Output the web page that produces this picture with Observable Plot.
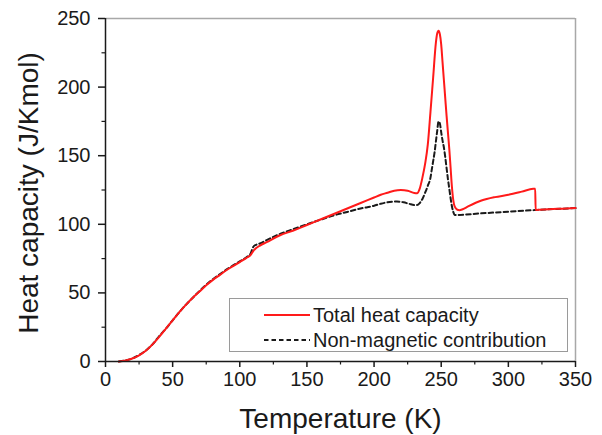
<!DOCTYPE html>
<html>
<head>
<meta charset="utf-8">
<script src="https://cdn.jsdelivr.net/npm/d3@7"></script>
<script src="https://cdn.jsdelivr.net/npm/@observablehq/plot@0.6"></script>
<style>
  html, body { margin: 0; padding: 0; background: #fff; }
  #wrap { position: relative; width: 602px; height: 435px; font-family: "Liberation Sans", Arial, sans-serif; }
  #legend { position: absolute; left: 229px; top: 298px; width: 337px; height: 52px; border: 1.5px solid #9a9a9a; background: #fff; box-sizing: content-box; }
  #legend .row { position: absolute; left: 0; height: 24px; display: flex; align-items: center; font-size: 20px; color: #1a1a1a; }
  #legend svg { margin-left: 34px; margin-right: 3px; }
</style>
</head>
<body>
<div id="wrap"></div>
<script>
// Total heat capacity (red solid)
const tempTotal = [10,15,20,25,30,35,40,45,50,55,60,65,70,75,80,85,90,95,100,105,108,110,112,115,120,130,140,150,160,170,180,190,200,205,210,215,220,225,230,232,234,236,238,240,242,244,246,247,248,249,250,251,252,253,254,255,256,257,258,259,260,262,263.5,266,270,280,290,300,310,318.5,320,320.3,330,340,350];
const cpTotal   = [0,0.8,2.2,4.5,7.8,12.5,18,24,30,36,41.5,46.5,51,55.5,59.5,63,66.5,69.5,72.5,75.5,77.5,80.5,82.5,84.5,87,92,95.5,99.5,103.5,107.5,111.5,115.5,119.5,121.5,123,124.5,125,124.5,122.8,122.6,126,134,144,158,182,207,232,239,241,238.5,231,218,205,192,179,167,155,141,127,117.5,113,110.6,110.3,111,113,117.3,119.8,121.5,123.8,125.9,126,110.5,111,111.4,111.8];

// Non-magnetic contribution (black dashed)
const tempNonMag = [10,15,20,25,30,35,40,45,50,55,60,65,70,75,80,85,90,95,100,105,108,110,112,115,120,130,140,150,160,170,180,190,200,205,210,217,222,226,230,232,234,236,238,240,242,243,244,245,246,247,248,249,250,251,252,253,254,255,256,257,258,259,260,280,300,320,350];
const cpNonMag   = [0,0.8,2.2,4.7,8,12.5,18.5,24,30,36,41.5,46.5,51.3,56,60,63.5,67,70,73,76,78.5,83.5,85,86,88.5,93,96.5,100,103.3,106.5,109,111.5,113.5,115,116,116.6,116,115,114,114,115.5,118.5,123,128,134,140,146,152,160,168,175,173.5,167,161,156,149,141,133,126,119,113,109,106.8,108,109.2,110.4,111.8];

const xTicks = [0,50,100,150,200,250,300,350];
const yTicks = [0,50,100,150,200,250];
const xMinor = [25,75,125,175,225,275,325];
const yMinor = [25,75,125,175,225];

const seriesNames = ["Total heat capacity", "Non-magnetic contribution"];
const xLabel = "Temperature (K)";
const yLabel = "Heat capacity (J/Kmol)";

const total = tempTotal.map((t, i) => ({t, cp: cpTotal[i]}));
const nonMag = tempNonMag.map((t, i) => ({t, cp: cpNonMag[i]}));

const chart = Plot.plot({
  width: 602,
  height: 435,
  marginLeft: 105,
  marginRight: 27,
  marginTop: 18,
  marginBottom: 74,
  style: {fontFamily: "Liberation Sans, Arial, sans-serif", fontSize: "20px", color: "#1a1a1a", background: "#fff"},
  x: {domain: [0, 350]},
  y: {domain: [0, 250]},
  marks: [
    Plot.ruleY([250], {stroke: "#a8a8a8", strokeWidth: 1.5}),
    Plot.ruleX([350], {stroke: "#a8a8a8", strokeWidth: 1.5}),
    Plot.line(nonMag, {x: "t", y: "cp", stroke: "#1a1a1a", strokeWidth: 2, strokeDasharray: "4.5,3", curve: "monotone-x"}),
    Plot.line(total, {x: "t", y: "cp", stroke: "#ff1a1a", strokeWidth: 2, curve: "monotone-x"}),
    Plot.ruleX([0], {stroke: "#1a1a1a", strokeWidth: 1.5}),
    Plot.ruleY([0], {stroke: "#1a1a1a", strokeWidth: 1.5}),
    Plot.axisX({ticks: xTicks, tickSize: 6, tickPadding: 4, tickFormat: d => String(d), label: null, stroke: "#1a1a1a", strokeWidth: 1.5, fontSize: 20}),
    Plot.axisX({ticks: xMinor, tickSize: 3.5, text: null, label: null, stroke: "#1a1a1a", strokeWidth: 1.2}),
    Plot.axisY({ticks: yTicks, tickSize: 7, tickPadding: 8, tickFormat: d => String(d), label: null, stroke: "#1a1a1a", strokeWidth: 1.5, fontSize: 20}),
    Plot.axisY({ticks: yMinor, tickSize: 3.5, text: null, label: null, stroke: "#1a1a1a", strokeWidth: 1.2}),
    Plot.text([xLabel], {text: d => d, frameAnchor: "bottom", textAnchor: "middle", dy: 66, lineAnchor: "bottom", fontSize: 28, fill: "#1a1a1a"}),
    Plot.text([yLabel], {text: d => d, frameAnchor: "left", textAnchor: "middle", dx: -68, dy: 3, rotate: -90, lineAnchor: "bottom", fontSize: 28, fill: "#1a1a1a"})
  ]
});

const wrap = document.getElementById("wrap");
wrap.appendChild(chart);

const legend = document.createElement("div");
legend.id = "legend";
const styles = [{stroke: "#ff1a1a", dash: null}, {stroke: "#1a1a1a", dash: "4.5,3"}];
seriesNames.forEach((name, i) => {
  const row = document.createElement("div");
  row.className = "row";
  row.style.top = (4 + i * 25) + "px";
  const s = styles[i];
  row.innerHTML = `<svg width="46" height="6"><line x1="0" y1="3" x2="46" y2="3" stroke="${s.stroke}" stroke-width="2" ${s.dash ? `stroke-dasharray="${s.dash}"` : ""}/></svg><span>${name}</span>`;
  legend.appendChild(row);
});
wrap.appendChild(legend);
</script>
</body>
</html>
